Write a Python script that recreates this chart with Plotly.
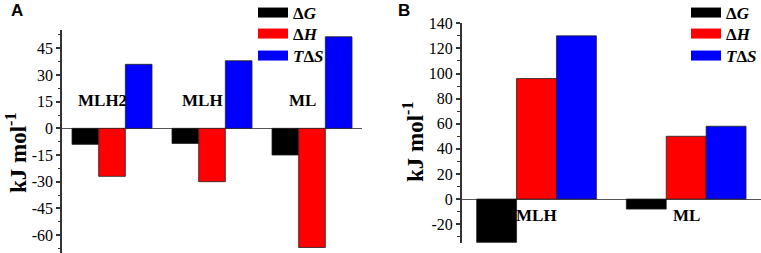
import plotly.graph_objects as go

# ---------------- data ----------------
cats_a = ["MLH2", "MLH", "ML"]
dG_a = [-9, -8.5, -15]
dH_a = [-27, -30, -67]
TdS_a = [36, 38, 51.5]

cats_b = ["MLH", "ML"]
dG_b = [-34.5, -8]
dH_b = [96, 50]
TdS_b = [130, 58]

series_names = ["<b>Δ<i>G</i></b>", "<b>Δ<i>H</i></b>", "<b><i>T</i>Δ<i>S</i></b>"]
series_colors = ["#000000", "#ff0000", "#0000ff"]

ticks_a = [-60, -45, -30, -15, 0, 15, 30, 45]
ticks_b = [-20, 0, 20, 40, 60, 80, 100, 120, 140]

W, H = 761, 253
SERIF = "Liberation Serif"


def px(x):  # window x pixel -> paper fraction
    return x / W


def py(y):  # window y pixel -> paper fraction
    return 1 - y / H


fig = go.Figure()

idx_a = list(range(len(cats_a)))
idx_b = list(range(len(cats_b)))

for vals, col in zip([dG_a, dH_a, TdS_a], series_colors):
    fig.add_trace(go.Bar(x=idx_a, y=vals, marker=dict(color=col, line=dict(color="#222", width=0.8)),
                         xaxis="x", yaxis="y", showlegend=False))
for vals, col in zip([dG_b, dH_b, TdS_b], series_colors):
    fig.add_trace(go.Bar(x=idx_b, y=vals, marker=dict(color=col, line=dict(color="#222", width=0.8)),
                         xaxis="x2", yaxis="y2", showlegend=False))

# legend entries with wide swatches, one legend per row for exact spacing
row_y = [13, 34, 56]
legends = {}
for k, (name, col) in enumerate(zip(series_names, series_colors)):
    for panel, (xa, ya, lx) in enumerate([("x", "y", 253), ("x2", "y2", 686)]):
        lname = "legend" if (panel == 0 and k == 0) else f"legend{1 + k + 3 * panel}"
        fig.add_trace(go.Scatter(x=[None], y=[None], mode="lines", name=name,
                                 line=dict(color=col, width=12), xaxis=xa, yaxis=ya, legend=lname))
        legends[lname] = dict(x=px(lx), xanchor="left", y=py(row_y[k]), yanchor="middle",
                              bgcolor="rgba(0,0,0,0)", borderwidth=0,
                              font=dict(family=SERIF, size=17, color="black"), itemwidth=30)

axis_col = "#333333"
tickfont = dict(family=SERIF, size=16, color="black")

yax_common = dict(showline=True, linecolor=axis_col, linewidth=1.5, ticks="outside", ticklen=4,
                  tickwidth=1.5, tickcolor=axis_col, tickfont=tickfont, showgrid=False,
                  zeroline=True, zerolinecolor="#555555", zerolinewidth=1, automargin=False)

fig.update_layout(
    width=W, height=H, margin=dict(l=0, r=0, t=0, b=0, pad=0, autoexpand=False),
    paper_bgcolor="white", plot_bgcolor="white",
    barmode="group", bargap=0.2, bargroupgap=0,
    xaxis=dict(domain=[px(62), px(362)], range=[-0.5, len(cats_a) - 0.5], showticklabels=False,
               showline=False, showgrid=False, zeroline=False, ticks="", automargin=False),
    yaxis=dict(domain=[0, py(30)], range=[-70.1, 55.3],
               tickvals=ticks_a, ticktext=[str(t) for t in ticks_a],
               minor=dict(ticks="outside", ticklen=2.5, tickwidth=1.2, tickcolor=axis_col, dtick=7.5, tick0=0),
               **yax_common),
    xaxis2=dict(domain=[px(461.7), 1], range=[-0.5, len(cats_b) - 0.5], showticklabels=False,
                showline=False, showgrid=False, zeroline=False, ticks="", anchor="y2", automargin=False),
    yaxis2=dict(domain=[py(243), py(23.3)], range=[-35, 140], anchor="x2",
                tickvals=ticks_b, ticktext=[str(t) for t in ticks_b],
                minor=dict(ticks="outside", ticklen=2.5, tickwidth=1.2, tickcolor=axis_col, dtick=10, tick0=0),
                **yax_common),
    **legends,
)

ann = []
# category labels
for i, c in enumerate(cats_a):
    ann.append(dict(x=i - 0.1, y=15.9, xref="x", yref="y", text=f"<b>{c}</b>", showarrow=False,
                    xanchor="center", yanchor="middle", font=dict(family=SERIF, size=17, color="black")))
for i, c in enumerate(cats_b):
    ann.append(dict(x=i, y=-12.7, xref="x2", yref="y2", text=f"<b>{c}</b>", showarrow=False,
                    xanchor="center", yanchor="middle", font=dict(family=SERIF, size=17, color="black")))
# y titles
ann.append(dict(x=px(16), y=py(153), xref="paper", yref="paper", text="<b>kJ mol<sup>-1</sup></b>",
                xanchor="center", yanchor="middle",
                textangle=-90, showarrow=False, font=dict(family=SERIF, size=23, color="black")))
ann.append(dict(x=px(413), y=py(142), xref="paper", yref="paper", text="<b>kJ mol<sup>-1</sup></b>",
                xanchor="center", yanchor="middle",
                textangle=-90, showarrow=False, font=dict(family=SERIF, size=23, color="black")))
# panel letters
ann.append(dict(x=px(17), y=py(11), xref="paper", yref="paper", xanchor="center", yanchor="middle",
                text="<b>A</b>", showarrow=False, font=dict(family="Liberation Sans", size=17, color="black")))
ann.append(dict(x=px(404), y=py(11), xref="paper", yref="paper", xanchor="center", yanchor="middle",
                text="<b>B</b>", showarrow=False, font=dict(family="Liberation Sans", size=17, color="black")))
fig.update_layout(annotations=ann)

fig.write_html("out.html", config={"displayModeBar": False},
               post_script="document.body.style.margin='0';")
